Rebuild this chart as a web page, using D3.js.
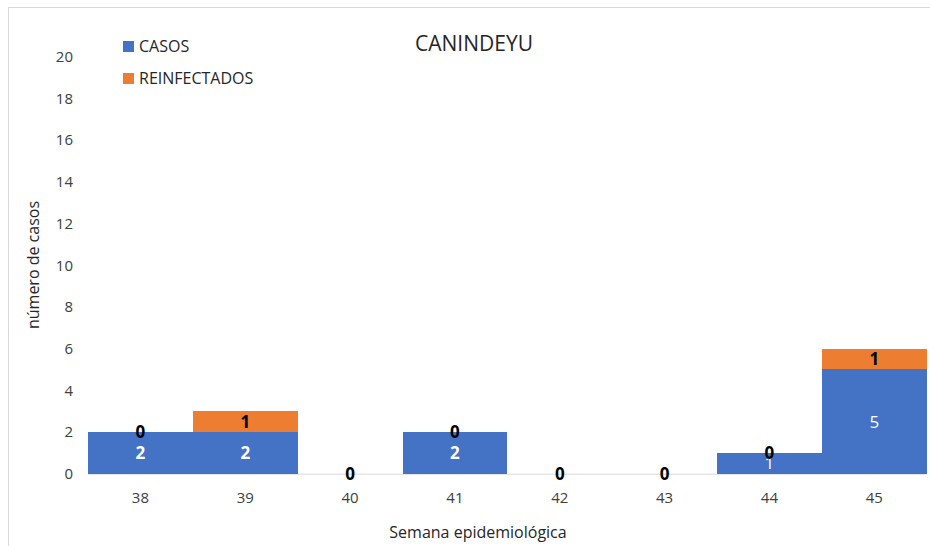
<!DOCTYPE html>
<html>
<head>
<meta charset="utf-8">
<script src="https://cdn.jsdelivr.net/npm/d3@7"></script>
<style>
  body { margin: 0; background: #fff; }
  text { font-family: "Open Sans", "Noto Sans", sans-serif; }
</style>
</head>
<body>
<div id="chart"></div>
<script>
(function(){

    var semanas = ["38", "39", "40", "41", "42", "43", "44", "45"];
    var casos = [2, 2, 0, 2, 0, 0, 1, 5];
    var reinfectados = [0, 1, 0, 0, 0, 0, 0, 1];
    var yTicks = [0, 2, 4, 6, 8, 10, 12, 14, 16, 18, 20];
    var seriesNames = ["CASOS", "REINFECTADOS"];

    var width = 930, height = 546;
    var margin = {top: 56.7, left: 88, right: 3.3, bottom: 72.3};
    var effWidth = width - margin.left - margin.right;
    var effHeight = height - margin.top - margin.bottom;
    var colors = ["#4472c4", "#ed7d31"];

    var svg = d3.select("#chart").append("svg")
        .attr("width", width)
        .attr("height", height);

    // chart frame (cut off on right and bottom)
    svg.append("rect")
        .attr("x", 8.5).attr("y", 7.5)
        .attr("width", 1000).attr("height", 1000)
        .attr("fill", "none")
        .attr("stroke", "#d9d9d9");

    var g = svg.append("g").attr("transform", "translate(" + margin.left + "," + margin.top + ")");

    var x = d3.scaleBand().domain(semanas).range([0, effWidth]).padding(0);
    var y = d3.scaleLinear().domain([0, 20]).range([effHeight, 0]);

    var rows = semanas.map(function(s, i){ return {sem: s, CASOS: casos[i], REINFECTADOS: reinfectados[i]}; });
    var stacked = d3.stack().keys(seriesNames)(rows);

    // axis line
    g.append("line")
        .attr("x1", 0).attr("x2", effWidth)
        .attr("y1", y(0) + 0.5).attr("y2", y(0) + 0.5)
        .attr("stroke", "#d9d9d9");

    stacked.forEach(function(layer, li){
        g.append("g").selectAll("rect")
            .data(layer).enter().append("rect")
            .attr("x", function(d){ return x(d.data.sem); })
            .attr("width", x.bandwidth())
            .attr("y", function(d){ return y(d[1]); })
            .attr("height", function(d){ return y(d[0]) - y(d[1]); })
            .attr("shape-rendering", "crispEdges")
            .attr("fill", colors[li]);
    });

    // labels
    stacked.forEach(function(layer, li){
        g.append("g").selectAll("text")
            .data(layer).enter().append("text")
            .attr("x", function(d){ return x(d.data.sem) + x.bandwidth()/2; })
            .attr("y", function(d){ return (y(d[0]) + y(d[1]))/2; })
            .attr("dy", "0.36em")
            .attr("text-anchor", "middle")
            .attr("font-size", "17px")
            .attr("font-weight", function(d){ var v = d[1]-d[0]; return (li === 0 && v !== 2) ? "normal" : "bold"; })
            .attr("fill", li === 0 ? "#ffffff" : "#000000")
            .text(function(d){ return d[1] - d[0]; });
    });

    // y ticks
    g.append("g").selectAll("text")
        .data(yTicks).enter().append("text")
        .attr("x", -15)
        .attr("y", function(d){ return y(d); })
        .attr("dy", "0.36em")
        .attr("text-anchor", "end")
        .attr("font-size", "15px")
        .attr("fill", "#404040")
        .text(function(d){ return d; });

    // x ticks
    g.append("g").selectAll("text")
        .data(semanas).enter().append("text")
        .attr("x", function(d){ return x(d) + x.bandwidth()/2; })
        .attr("y", effHeight + 24)
        .attr("dy", "0.36em")
        .attr("text-anchor", "middle")
        .attr("font-size", "15px")
        .attr("fill", "#404040")
        .text(function(d){ return d; });

    // titles
    svg.append("text")
        .attr("x", 474).attr("y", 43)
        .attr("dy", "0.36em")
        .attr("text-anchor", "middle")
        .attr("font-size", "21px")
        .attr("fill", "#262626")
        .text("CANINDEYU");

    svg.append("text")
        .attr("x", 478).attr("y", 532)
        .attr("dy", "0.36em")
        .attr("text-anchor", "middle")
        .attr("font-size", "16px")
        .attr("fill", "#262626")
        .text("Semana epidemiológica");

    svg.append("text")
        .attr("transform", "translate(33,265) rotate(-90)")
        .attr("dy", "0.36em")
        .attr("text-anchor", "middle")
        .attr("font-size", "16px")
        .attr("fill", "#262626")
        .text("número de casos");

    // legend
    var legend = svg.append("g").selectAll("g")
        .data(seriesNames).enter().append("g")
        .attr("transform", function(d, i){ return "translate(123," + (46 + i*32) + ")"; });
    legend.append("rect")
        .attr("x", 0).attr("y", -5)
        .attr("width", 11).attr("height", 11)
        .attr("fill", function(d, i){ return colors[i]; });
    legend.append("text")
        .attr("x", 16).attr("y", 0)
        .attr("dy", "0.36em")
        .attr("font-size", "16px")
        .attr("fill", "#262626")
        .text(function(d){ return d; });

})();
</script>
</body>
</html>
